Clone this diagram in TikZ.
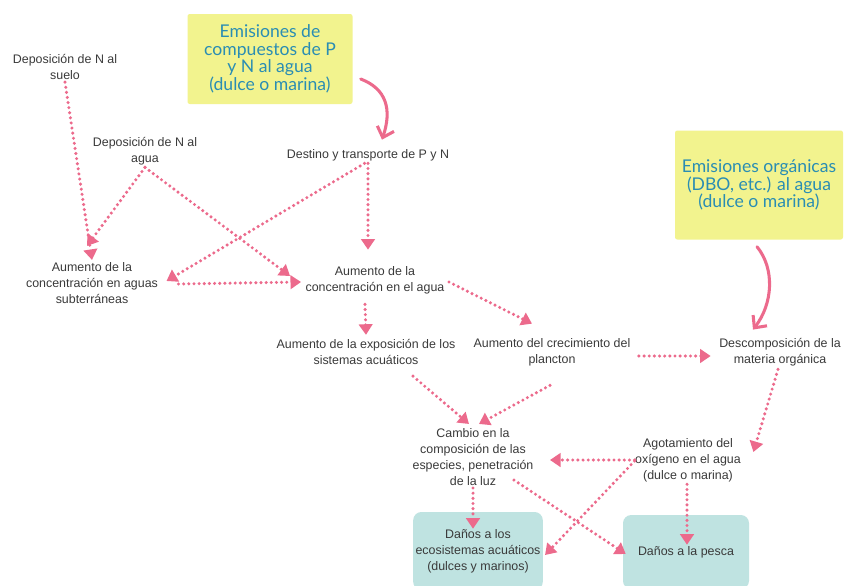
\documentclass[tikz,border=0pt]{standalone}
\usepackage{fontspec}
\setmainfont{Liberation Sans}
\newfontfamily\titlefont{Lato}
\usepackage{xcolor}
\usetikzlibrary{arrows.meta,positioning}
\definecolor{rosa}{HTML}{EC6A8C}
\definecolor{amarillo}{HTML}{F2F38E}
\definecolor{turquesa}{HTML}{BFE3E1}
\definecolor{azul}{HTML}{2A8DB3}
\definecolor{gris}{HTML}{3A3A3A}

\begin{document}
\begin{tikzpicture}[
  x=0.3mm, y=-0.3mm,
  lbl/.style={align=center, text=gris, inner sep=2pt, font=\fontsize{10.6}{13.6}\selectfont},
  emis/.style={fill=amarillo, rounded corners=2pt, align=center, text=azul, font=\titlefont\fontsize{15}{15}\selectfont},
  dano/.style={lbl, fill=turquesa, rounded corners=7pt, minimum width=37.8mm},
  flow/.style={rosa, line width=2.9pt, line cap=round, dash pattern=on 0pt off 4.4pt, -{Triangle[length=9pt,width=11.5pt]}},
  curva/.style={rosa, line width=2.6pt, line cap=round, -{Straight Barb[length=8pt,width=15pt,line width=2.6pt]}}
]
\clip (0,0) rectangle (845,585);
\fill[white] (0,0) rectangle (845,585);

% sources
\node[emis, minimum width=49.5mm, minimum height=27mm] (emisA) at (270,59) {Emisiones de\\compuestos de P\\y N al agua\\(dulce o marina)};
\node[emis, minimum width=50.4mm, minimum height=32.7mm] (emisB) at (759,185) {Emisiones orgánicas\\(DBO, etc.) al agua\\(dulce o marina)};
\node[lbl] (suelo) at (65,67) {Deposición de N al\\suelo};
\node[lbl] (depagua) at (145,151) {Deposición de N al\\agua};
\node[lbl] (destino) at (368,155) {Destino y transporte de P y N};

% middle
\node[lbl] (subter) at (92,283) {Aumento de la\\concentración en aguas\\subterráneas};
\node[lbl] (concagua) at (375,280) {Aumento de la\\concentración en el agua};
\node[lbl] (exposicion) at (366,352) {Aumento de la exposición de los\\sistemas acuáticos};
\node[lbl] (plancton) at (552,352) {Aumento del crecimiento del\\plancton};
\node[lbl] (descomp) at (780,352) {Descomposición de la\\materia orgánica};
\node[lbl] (cambio) at (473,457) {Cambio en la\\composición de las\\especies, penetración\\de la luz};
\node[lbl] (agot) at (688,460) {Agotamiento del\\oxígeno en el agua\\(dulce o marina)};

% effects
\node[dano, minimum height=23.4mm] (danosA) at (478,551) {Daños a los\\ecosistemas acuáticos\\(dulces y marinos)};
\node[dano, minimum height=22.2mm] (danosB) at (686,552) {Daños a la pesca};

\draw[curva] ([shift={(8,20)}]emisA.east) .. controls +(26,10) and +(10,-30) .. ([shift={(14,-7)}]destino.north);
\draw[curva] ([shift={(-2,7)}]emisB.south) .. controls +(18,22) and +(20,-26) .. ([shift={(-27,-6)}]descomp.north);

\draw[flow] (suelo.south) -- (subter.north);
\draw[flow] (depagua.south) -- ([shift={(-5,-14)}]subter.north);
\draw[flow] (depagua.south) -- ([shift={(-13,-4)}]concagua.west);
\draw[flow] ([xshift=-3pt]destino.south) -- ([shift={(6,-2)}]subter.east);
\draw[flow] (destino.south) -- ([shift={(-7,-14)}]concagua.north);
\draw[flow] ([shift={(18,1)}]subter.east) -- ([shift={(-2,2)}]concagua.west);
\draw[flow] ([shift={(2,2)}]concagua.east) -- ([shift={(-20,-12)}]plancton.north);
\draw[flow] ([shift={(-10,8)}]concagua.south) -- ([shift={(0,-2)}]exposicion.north);
\draw[flow] ([shift={(47,9)}]exposicion.south) -- ([shift={(-4,-2)}]cambio.north);
\draw[flow] ([shift={(-2,17)}]plancton.south) -- ([shift={(6,-2)}]cambio.north);
\draw[flow] ([shift={(6,4)}]plancton.east) -- ([shift={(-6,4)}]descomp.west);
\draw[flow] ([shift={(-2,1)}]descomp.south) -- ([shift={(10,-8)}]agot.east);
\draw[flow] ([shift={(2,0)}]agot.west) -- ([shift={(14,3)}]cambio.east);
\draw[flow] ([shift={(2,1)}]agot.west) -- ([shift={(2,4)}]danosA.east);
\draw[flow] ([shift={(-22,-8)}]cambio.south east) -- ([shift={(3,2)}]danosB.west);
\draw[flow] (cambio.south) -- ([shift={(-5,17)}]danosA.north);
\draw[flow] ([shift={(-1,0)}]agot.south) -- ([shift={(1,30)}]danosB.north);
\end{tikzpicture}
\end{document}
